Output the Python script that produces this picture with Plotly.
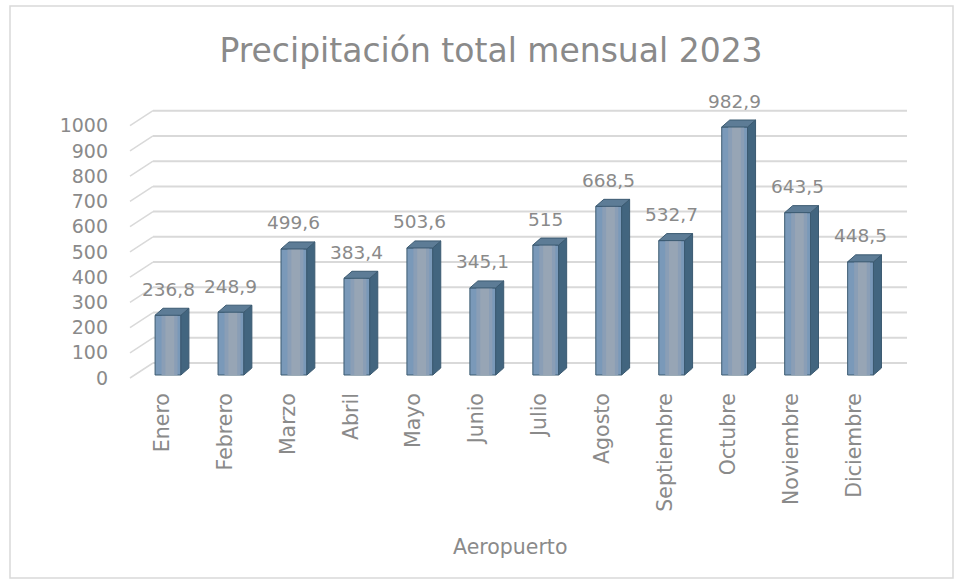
import plotly.graph_objects as go

# ---------------- data ----------------
months = ["Enero", "Febrero", "Marzo", "Abril", "Mayo", "Junio", "Julio",
          "Agosto", "Septiembre", "Octubre", "Noviembre", "Diciembre"]
precip = [236.8, 248.9, 499.6, 383.4, 503.6, 345.1, 515.0,
          668.5, 532.7, 982.9, 643.5, 448.5]
y_ticks = [0, 100, 200, 300, 400, 500, 600, 700, 800, 900, 1000]
title_text = "Precipitación total mensual 2023"
x_title = "Aeropuerto"

# ---------------- geometry / style ----------------
W, H = 956, 581
PX_PER_CAT = 62.96          # px per category
PX_PER_UNIT = 0.2523        # px per mm
X0_PX = 168.0               # pixel of first category center
Y0_PX = 375.0               # pixel of value 0 (bar front)

x_left_px, x_right_px = 109.0, 930.0
y_bot_px, y_top_px = 388.0, 96.0

def xu(px):  # pixel -> category units
    return (px - X0_PX) / PX_PER_CAT

def yu(px):  # pixel -> value units
    return (Y0_PX - px) / PX_PER_UNIT

bar_w = 0.41
dx = 8.0 / PX_PER_CAT        # depth offset (x)
dy = 7.0 / PX_PER_UNIT       # depth offset (y)
back_shift = 12.0 / PX_PER_UNIT   # back wall is 12 px higher than bar front
lab_shift = 3.0 / PX_PER_UNIT     # tick labels are 3 px lower

text_col = "#8a8a8a"
grid_col = "#d9d9d9"
font_fam = "'DejaVu Sans', Verdana, sans-serif"
outline = "#3b5a71"

fig = go.Figure()
xs = list(range(len(months)))

# front faces (stepped gradient)
fig.add_trace(go.Bar(x=xs, y=precip, width=bar_w, marker=dict(color="#7a99b9", line=dict(color=outline, width=1)),
                     hoverinfo="skip"))
fig.add_trace(go.Bar(x=xs, y=precip, width=bar_w * 0.62, offset=-bar_w / 2 + bar_w * 0.25,
                     marker=dict(color="#8a9eb6", line=dict(width=0)), hoverinfo="skip"))
fig.add_trace(go.Bar(x=xs, y=precip, width=bar_w * 0.34, offset=-bar_w / 2 + bar_w * 0.40,
                     marker=dict(color="#97a5b5", line=dict(width=0)), hoverinfo="skip"))

# side faces
sx, sy = [], []
for i, v in zip(xs, precip):
    r = i + bar_w / 2
    sx += [r, r + dx, r + dx, r, r, None]
    sy += [0, dy, v + dy, v, 0, None]
fig.add_trace(go.Scatter(x=sx, y=sy, mode="lines", fill="toself", fillcolor="#42657f",
                         line=dict(color=outline, width=1), hoverinfo="skip"))
# top faces
tx, ty = [], []
for i, v in zip(xs, precip):
    l, r = i - bar_w / 2, i + bar_w / 2
    tx += [l, l + dx, r + dx, r, l, None]
    ty += [v, v + dy, v + dy, v, v, None]
fig.add_trace(go.Scatter(x=tx, y=ty, mode="lines", fill="toself", fillcolor="#5d7c96",
                         line=dict(color=outline, width=1), hoverinfo="skip"))

# back-wall gridlines and side-wall diagonals (below traces)
shapes = []
xb_left, xb_right, xf_left = xu(153), xu(907), xu(130)
for t in y_ticks:
    shapes.append(dict(type="line", xref="x", yref="y", layer="below",
                       x0=xb_left, x1=xb_right, y0=t + back_shift, y1=t + back_shift,
                       line=dict(color=grid_col, width=2)))
    shapes.append(dict(type="line", xref="x", yref="y", layer="below",
                       x0=xf_left, x1=xb_left, y0=t - lab_shift, y1=t + back_shift,
                       line=dict(color=grid_col, width=1.5)))
# chart border
shapes.append(dict(type="rect", xref="paper", yref="paper", layer="below",
                   x0=10 / W, x1=953 / W, y0=1 - 578 / H, y1=1 - 6 / H,
                   line=dict(color=grid_col, width=1.5)))

def fmt(v):
    s = ("%.1f" % v).rstrip("0").rstrip(".")
    return s.replace(".", ",")

annotations = []
for i, v in zip(xs, precip):
    annotations.append(dict(x=i, y=v, xref="x", yref="y", text=fmt(v), showarrow=False,
                            yshift=26, xanchor="center", yanchor="middle",
                            font=dict(family=font_fam, size=18.5, color=text_col)))
annotations.append(dict(x=510 / W, y=1 - 547 / H, xref="paper", yref="paper", text=x_title,
                        showarrow=False, xanchor="center", yanchor="middle",
                        font=dict(family=font_fam, size=20.5, color=text_col)))

fig.update_layout(
    width=W, height=H,
    margin=dict(l=0, r=0, t=0, b=0),
    paper_bgcolor="white", plot_bgcolor="rgba(0,0,0,0)",
    showlegend=False, barmode="overlay",
    title=dict(text=title_text, x=491 / W, y=1 - 50 / H, xanchor="center", yanchor="middle",
               font=dict(family=font_fam, size=33, color=text_col)),
    xaxis=dict(domain=[x_left_px / W, x_right_px / W], range=[xu(x_left_px), xu(x_right_px)],
               tickvals=[i - 6.0 / PX_PER_CAT for i in xs], ticktext=months, tickangle=-90,
               showgrid=False, zeroline=False, showline=False, ticks="",
               tickfont=dict(family=font_fam, size=20.5, color=text_col)),
    yaxis=dict(domain=[1 - y_bot_px / H, 1 - y_top_px / H], range=[yu(y_bot_px), yu(y_top_px)],
               tickvals=[t - lab_shift for t in y_ticks], ticktext=[str(t) for t in y_ticks],
               showgrid=False, zeroline=False, showline=False, ticks="",
               tickfont=dict(family=font_fam, size=19, color=text_col)),
    shapes=shapes,
    annotations=annotations,
)

fig.write_html("out.html", config={"displayModeBar": False},
               post_script="document.body.style.margin='0';document.body.style.overflow='hidden';")
